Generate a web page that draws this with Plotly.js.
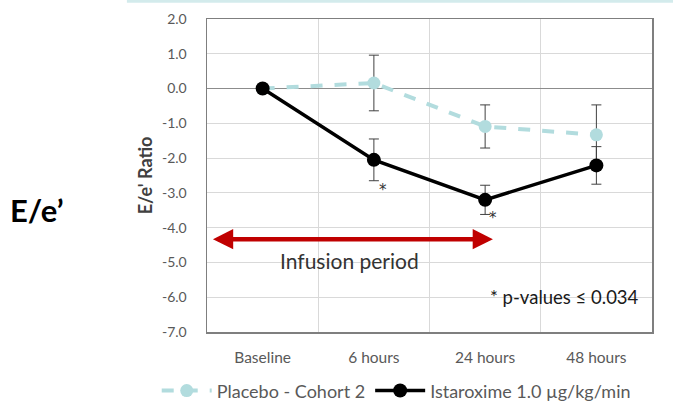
<!DOCTYPE html>
<html>
<head>
<meta charset="utf-8">
<script src="https://cdn.plot.ly/plotly-3.0.1.min.js"></script>
<style>html,body{margin:0;padding:0;background:#fff;}#chart{width:673px;height:403px;}</style>
</head>
<body>
<div id="chart"></div>
<script>
const categories = ["Baseline", "6 hours", "24 hours", "48 hours"];
const placeboValues = [0, 0.16, -1.09, -1.33];
const placeboErr = [0, 0.8, 0.62, 0.86];
const istaroximeValues = [0, -2.05, -3.2, -2.21];
const istaroximeErr = [0, 0.6, 0.42, 0.54];
const yTicks = [2, 1, 0, -1, -2, -3, -4, -5, -6, -7];
const yTickLabels = ["2.0", "1.0", "0.0", "-1.0", "-2.0", "-3.0", "-4.0", "-5.0", "-6.0", "-7.0"];
const seriesNames = ["Placebo - Cohort 2", "Istaroxime 1.0 \u00b5g/kg/min"];

const FONT = "Lato, 'Open Sans', sans-serif";

const traces = [
  {
    x: categories, y: placeboValues, name: seriesNames[0], type: "scatter", mode: "lines+markers",
    line: {color: "#B2DCDE", width: 4, dash: "dash"},
    marker: {color: "#B2DCDE", size: 13},
    error_y: {type: "data", array: placeboErr, visible: true, color: "#404040", thickness: 1, width: 5}
  },
  {
    x: categories, y: istaroximeValues, name: seriesNames[1], type: "scatter", mode: "lines+markers",
    line: {color: "#000000", width: 3.5},
    marker: {color: "#000000", size: 14},
    error_y: {type: "data", array: istaroximeErr, visible: true, color: "#404040", thickness: 1, width: 5}
  }
];

const layout = {
  width: 673, height: 403,
  margin: {l: 207, r: 21, t: 19, b: 71, autoexpand: false},
  paper_bgcolor: "#ffffff", plot_bgcolor: "#ffffff",
  font: {family: FONT, color: "#595959"},
  showlegend: true,
  legend: {orientation: "h", x: -0.113, xanchor: "left", y: -0.188, yanchor: "middle",
           font: {size: 18, color: "#595959", family: FONT}, traceorder: "normal",
           itemwidth: 50, tracegroupgap: 0},
  xaxis: {
    type: "category", range: [-0.5, 3.5], tickson: "boundaries",
    showgrid: true, gridcolor: "#D9D9D9", gridwidth: 1,
    showline: true, linecolor: "#7F7F7F", linewidth: 1.5, mirror: true,
    ticks: "", ticklabelstandoff: 11,
    tickfont: {size: 15.5, color: "#595959", family: FONT},
    zeroline: false, fixedrange: true
  },
  yaxis: {
    range: [-7, 2], tickvals: yTicks, ticktext: yTickLabels,
    showgrid: true, gridcolor: "#D9D9D9", gridwidth: 1,
    showline: true, linecolor: "#7F7F7F", linewidth: 1.5, mirror: true,
    zeroline: true, zerolinecolor: "#8C8C8C", zerolinewidth: 1.5,
    ticks: "", ticklabelstandoff: 16,
    tickfont: {size: 14, color: "#595959", family: FONT},
    title: {text: "<b>E/e' Ratio</b>", font: {size: 18, color: "#404040", family: FONT}, standoff: 4},
    fixedrange: true
  },
  shapes: [
    {type: "line", xref: "paper", yref: "paper", x0: -0.18, x1: 1.05, y0: 1.057, y1: 1.057,
     line: {color: "#D3EBEC", width: 3}}
  ],
  annotations: [
    {x: 2.07, y: -4.33, ax: -0.46, ay: -4.33, axref: "x", ayref: "y", xref: "x", yref: "y",
     text: "", showarrow: true, arrowhead: 2, arrowside: "end+start", arrowsize: 0.9,
     arrowwidth: 4.5, arrowcolor: "#C00000", standoff: 0, startstandoff: 0},
    {x: 0.78, y: -4.93, xref: "x", yref: "y", text: "Infusion period", showarrow: false,
     font: {size: 21, color: "#333333", family: FONT}},
    {x: 3.405, y: -6.0, xref: "x", yref: "y", xanchor: "right", text: "* p-values \u2264 0.034", showarrow: false,
     font: {size: 18.5, color: "#1a1a1a", family: FONT}},
    {x: 1.08, y: -2.92, xref: "x", yref: "y", text: "*", showarrow: false,
     font: {size: 15, color: "#333333", family: "DejaVu Sans"}},
    {x: 2.07, y: -3.72, xref: "x", yref: "y", text: "*", showarrow: false,
     font: {size: 15, color: "#333333", family: "DejaVu Sans"}},
    {x: -0.383, y: 0.39, xref: "paper", yref: "paper", xanchor: "center", yanchor: "middle",
     text: "<b>E/e\u2019</b>", showarrow: false,
     font: {size: 31, color: "#000000", family: FONT}}
  ]
};

Plotly.newPlot("chart", traces, layout, {displayModeBar: false, staticPlot: true});
</script>
</body>
</html>
